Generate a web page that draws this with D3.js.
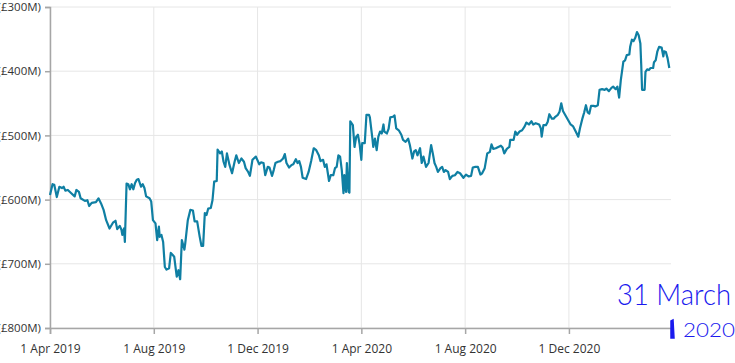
<!DOCTYPE html>
<html>
<head>
<meta charset="utf-8">
<script src="https://cdn.jsdelivr.net/npm/d3@7"></script>
<style>
  body { margin: 0; background: #fff; }
  svg { display: block; }
  .tick text { font-family: "Segoe UI", "Open Sans", sans-serif; font-size: 12px; fill: #333; }
</style>
</head>
<body>
<div id="chart"></div>
<script>
// days since 1 Apr 2019
var days = [0,3,5,8,11,14,16,18,21,25,29,31,34,36,41,44,46,49,54,57,60,63,66,70,74,77,79,82,84,85,87,88,
  90,92,94,96,98,100,102,104,107,109,111,113,117,119,121,124,126,128,129,131,133,135,137,140,142,144,146,148,149,151,153,
  155,158,159,162,165,168,170,173,176,178,180,182,184,186,189,191,193,196,197,200,202,204,206,208,211,214,217,219,222,225,228,230,233,235,
  238,242,246,248,251,253,256,258,261,263,265,268,271,274,276,278,281,284,286,289,291,293,295,297,301,304,307,310,313,316,318,321,323,325,
  328,330,333,335,337,339,341,343,345,346,348,349,351,352,353,356,358,360,362,364,366,367,370,372,375,376,379,380,382,384,386,388,390,
  392,393,396,398,400,403,405,407,410,413,415,418,421,423,426,428,430,432,435,437,439,442,445,448,450,452,454,456,459,461,463,465,468,470,473,476,
  479,482,486,489,492,495,497,500,503,506,508,511,514,517,519,521,524,527,530,532,534,537,540,541,545,547,549,552,555,558,560,563,566,568,571,575,
  577,578,580,583,585,587,590,592,594,597,599,601,603,606,609,612,615,618,621,623,626,628,630,632,634,636,639,641,644,646,649,652,654,657,660,662,
  665,667,669,671,674,676,678,681,682,684,686,688,690,692,694,695,696,699,700,702,704,706,709,710,712,714,716,719,721,722,724,726,728];

// net debt, £M (plotted as negative)
var netDebt = [593,576,577,596,580,582,580,586,585,590,595,585,588,598,602,601,610,605,604,598,606,616,632,645,636,633,646,641,647,655,645,666,
  575,576,584,576,584,574,569,568,580,576,582,595,598,603,632,637,663,642,658,655,666,705,709,707,683,686,689,710,720,710,724,
  663,678,668,632,616,617,634,634,658,672,672,621,624,614,613,601,572,571,522,528,525,541,549,528,546,559,541,531,543,536,541,551,557,563,
  538,533,545,542,543,562,549,550,563,554,543,541,540,536,529,543,550,546,545,537,543,540,549,566,568,557,540,520,523,531,540,538,549,545,
  571,562,562,551,549,531,533,554,590,562,588,543,588,589,478,484,518,502,499,514,538,512,512,468,468,472,505,518,505,523,502,494,497,
  483,494,497,490,472,471,469,489,492,499,507,510,505,515,536,525,523,531,520,543,533,549,543,515,528,543,549,557,551,549,557,554,557,568,563,562,
  557,559,566,561,564,563,550,549,549,561,559,551,528,526,514,521,520,518,516,519,528,521,518,507,507,494,499,494,492,486,480,483,478,483,481,483,
  489,502,484,484,479,467,474,474,471,468,463,450,462,469,476,483,486,494,502,489,473,464,453,464,466,454,454,455,453,429,428,429,427,431,426,424,
  428,424,441,414,385,383,375,374,362,351,353,348,339,344,357,390,429,429,401,397,398,395,395,386,383,369,362,363,377,369,370,380,395];

var yTicks = [-300, -400, -500, -600, -700, -800];
var xTickDates = ["2019-04-01", "2019-08-01", "2019-12-01", "2020-04-01", "2020-08-01", "2020-12-01"];

var start = new Date(2019, 3, 1);
var end = new Date(2021, 2, 31);
var parseDate = d3.timeParse("%Y-%m-%d");

var data = days.map(function(d, i) {
  return { date: d3.timeDay.offset(start, d), value: -netDebt[i] };
});

var margin = {top: 7, right: 64, bottom: 35, left: 50},
    width = 735 - margin.left - margin.right,
    height = 363 - margin.top - margin.bottom;

var svg = d3.select("#chart")
  .append("svg")
  .attr("width", 735)
  .attr("height", 363);

var g = svg.append("g")
  .attr("transform", "translate(" + margin.left + "," + margin.top + ")");

var x = d3.scaleTime()
  .domain([start, end])
  .range([0, width]);

var y = d3.scaleLinear()
  .domain([-800, -300])
  .range([height, 0]);

// gridlines
g.append("g")
  .selectAll("line.hgrid")
  .data(yTicks)
  .enter().append("line")
  .attr("x1", 0).attr("x2", width)
  .attr("y1", function(d) { return y(d); })
  .attr("y2", function(d) { return y(d); })
  .attr("stroke", "#e6e6e6");

g.append("g")
  .selectAll("line.vgrid")
  .data(xTickDates.map(parseDate))
  .enter().append("line")
  .attr("x1", function(d) { return x(d); })
  .attr("x2", function(d) { return x(d); })
  .attr("y1", 0).attr("y2", height)
  .attr("stroke", "#e6e6e6");

var yAxis = d3.axisLeft(y)
  .tickValues(yTicks)
  .tickSize(5)
  .tickPadding(4)
  .tickFormat(function(d) { return "(£" + Math.abs(d) + "M)"; });

var xAxis = d3.axisBottom(x)
  .tickValues(xTickDates.map(parseDate))
  .tickSize(6)
  .tickPadding(10)
  .tickFormat(d3.timeFormat("%-d %b %Y"));

var gy = g.append("g").call(yAxis);
var gx = g.append("g").attr("transform", "translate(0," + height + ")").call(xAxis);

gy.selectAll(".tick text").attr("font-size", 11.5).style("font-size", "11.5px");

[gx, gy].forEach(function(a) {
  a.select(".domain").attr("stroke", "#a6a6a6").attr("stroke-width", 1.5);
  a.selectAll(".tick line").attr("stroke", "#a6a6a6").attr("stroke-width", 1.5);
});

var line = d3.line()
  .x(function(d) { return x(d.date); })
  .y(function(d) { return y(d.value); });

g.append("path")
  .datum(data)
  .attr("fill", "none")
  .attr("stroke", "#0f7fa3")
  .attr("stroke-width", 2.2)
  .attr("stroke-linejoin", "round")
  .attr("d", line);

// handwritten note
var ink = "#1a1aee";
svg.append("text")
  .attr("x", 617).attr("y", 305)
  .attr("font-family", "Lato, sans-serif")
  .attr("font-weight", 300)
  .attr("font-size", 30)
  .attr("textLength", 114)
  .attr("lengthAdjust", "spacingAndGlyphs")
  .attr("fill", ink)
  .text("31 March");

svg.append("path")
  .attr("d", "M671,321 L673,320 L674,338 L671,338 Z")
  .attr("fill", ink)
  .attr("stroke", ink)
  .attr("stroke-width", 1.5);

svg.append("text")
  .attr("x", 683).attr("y", 337)
  .attr("font-family", "Lato, sans-serif")
  .attr("font-weight", 300)
  .attr("font-size", 19)
  .attr("textLength", 52)
  .attr("lengthAdjust", "spacingAndGlyphs")
  .attr("fill", ink)
  .text("2020");
</script>
</body>
</html>
